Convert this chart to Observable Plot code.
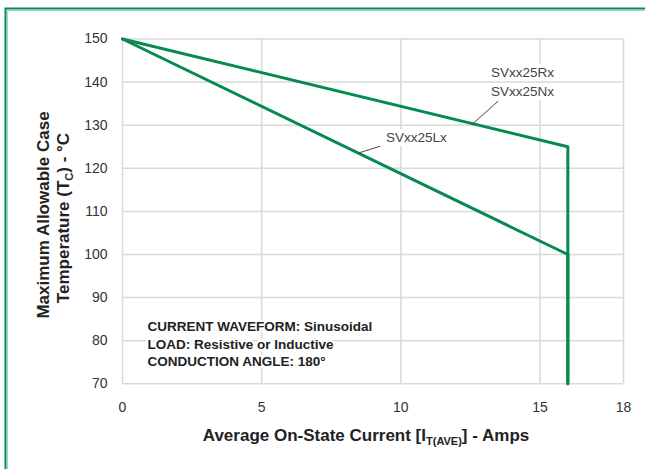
<!DOCTYPE html>
<html>
<head>
<meta charset="utf-8">
<script src="https://cdn.jsdelivr.net/npm/d3@7"></script>
<script src="https://cdn.jsdelivr.net/npm/@observablehq/plot@0.6"></script>
<style>
  html, body { margin: 0; padding: 0; background: white; }
</style>
</head>
<body>
<div id="chart"></div>
<script>
// ---- data ----
const xTicks = [0, 5, 10, 15, 18];
const yTicks = [70, 80, 90, 100, 110, 120, 130, 140, 150];

const currentRN = [0, 16, 16];
const tempRN = [150, 125, 70];
const currentL = [0, 16, 16];
const tempL = [150, 100, 70];

const seriesLabels = ["SVxx25Rx", "SVxx25Nx", "SVxx25Lx"];
const labelX = [14.37, 14.37, 10.56];
const labelY = [142.1, 137.7, 127.0];

const leaderX1 = [13.5, 9.25];
const leaderY1 = [135.6, 125.1];
const leaderX2 = [12.58, 8.5];
const leaderY2 = [130.3, 123.6];

const noteLines = ["CURRENT WAVEFORM: Sinusoidal", "LOAD: Resistive or Inductive", "CONDUCTION ANGLE: 180°"];
const noteX = [0.9, 0.9, 0.9];
const noteY = [83.3, 79.1, 75.1];

const green = "#078a50";
const gridColor = "#d9d9d9";
const font = "'Liberation Sans', Arial, Helvetica, sans-serif";

const rn = currentRN.map((x, i) => ({x, y: tempRN[i]}));
const lx = currentL.map((x, i) => ({x, y: tempL[i]}));
const labels = seriesLabels.map((t, i) => ({t, x: labelX[i], y: labelY[i]}));
const leaders = leaderX1.map((x1, i) => ({x1, y1: leaderY1[i], x2: leaderX2[i], y2: leaderY2[i]}));
const notes = noteLines.map((t, i) => ({t, x: noteX[i], y: noteY[i]}));

const svg = Plot.plot({
  width: 645,
  height: 469,
  marginLeft: 122,
  marginRight: 22,
  marginTop: 38.5,
  marginBottom: 85.7,
  style: {fontFamily: font, fontSize: "14px", color: "#333", background: "white", overflow: "visible"},
  x: {domain: [0, 18], ticks: xTicks, tickSize: 0, tickPadding: 18, label: null},
  y: {domain: [70, 150], ticks: yTicks, tickSize: 0, tickPadding: 15, label: null},
  marks: [
    Plot.gridX(xTicks, {stroke: gridColor, strokeOpacity: 1, strokeWidth: 1.5}),
    Plot.gridY(yTicks, {stroke: gridColor, strokeOpacity: 1, strokeWidth: 1.5}),
    Plot.line(lx, {x: "x", y: "y", stroke: green, strokeWidth: 3}),
    Plot.line(rn, {x: "x", y: "y", stroke: green, strokeWidth: 3}),
    Plot.link(leaders, {x1: "x1", y1: "y1", x2: "x2", y2: "y2", stroke: "#333", strokeWidth: 0.9}),
    Plot.text(labels, {x: "x", y: "y", text: "t", fill: "#444", stroke: "white", strokeWidth: 8,
      fontSize: 13.5, fontWeight: 300, textAnchor: "middle"}),
    Plot.text(notes, {x: "x", y: "y", text: "t", fill: "#222", stroke: "white", strokeWidth: 5,
      fontSize: 13.5, fontWeight: "bold", textAnchor: "start"})
  ]
});

const s = d3.select(svg);

// axis titles with subscripts
const xt = s.append("text")
  .attr("x", 366).attr("y", 441)
  .attr("text-anchor", "middle")
  .attr("font-family", font).attr("font-size", 17).attr("font-weight", "bold")
  .attr("fill", "#222");
xt.append("tspan").text("Average On-State Current [I");
xt.append("tspan").attr("font-size", 11).attr("dy", 4).text("T(AVE)");
xt.append("tspan").attr("dy", -4).text("] - Amps");

s.append("text")
  .attr("transform", "translate(49,215) rotate(-90)")
  .attr("text-anchor", "middle")
  .attr("font-family", font).attr("font-size", 17).attr("font-weight", "bold")
  .attr("fill", "#222")
  .text("Maximum Allowable Case");

const y2 = s.append("text")
  .attr("transform", "translate(69,218) rotate(-90)")
  .attr("text-anchor", "middle")
  .attr("font-family", font).attr("font-size", 17).attr("font-weight", "bold")
  .attr("fill", "#222");
y2.append("tspan").text("Temperature (T");
y2.append("tspan").attr("font-size", 11).attr("dy", 4).text("C");
y2.append("tspan").attr("dy", -4).text(") - °C");

// outer frame (top and left edges)
s.append("path")
  .attr("d", "M5.5,480 L5.5,8.5 L660,8.5")
  .attr("fill", "none").attr("stroke", green).attr("stroke-width", 2);
s.append("path")
  .attr("d", "M7.5,480 L7.5,10.5 L660,10.5")
  .attr("fill", "none").attr("stroke", "#9fd8b8").attr("stroke-width", 1);

document.getElementById("chart").appendChild(svg);
</script>
</body>
</html>
